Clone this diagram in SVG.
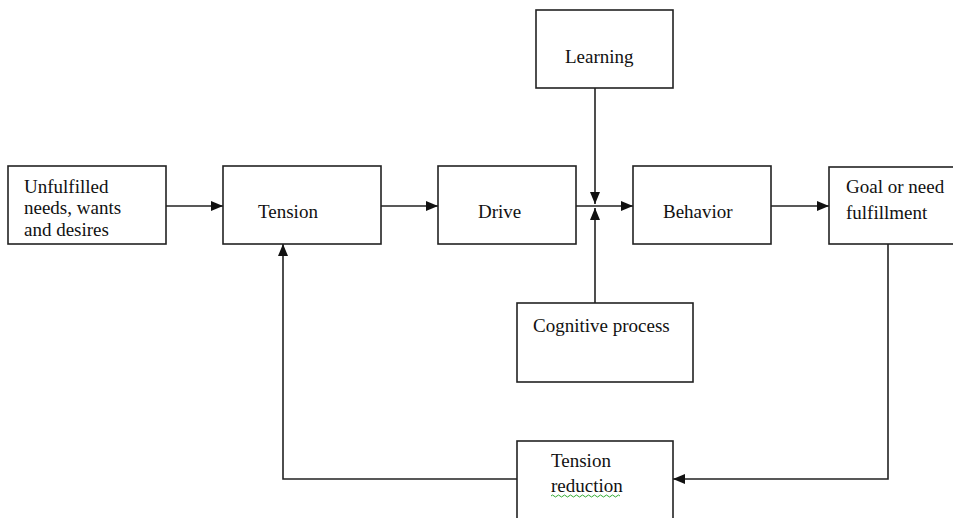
<svg xmlns="http://www.w3.org/2000/svg" width="953" height="518" viewBox="0 0 953 518">
<style>
.box{fill:#fff;stroke:#222;stroke-width:1.6}
.ln{fill:none;stroke:#222;stroke-width:1.6}
text{font-family:"Liberation Serif","Times New Roman",serif;font-size:19px;fill:#111}
</style>
<defs>
<marker id="ah" viewBox="0 0 12 10" refX="12" refY="5" markerWidth="12" markerHeight="10" markerUnits="userSpaceOnUse" orient="auto">
<path d="M0,0 L12,5 L0,10 z" fill="#111"/>
</marker>
</defs>
<rect width="953" height="518" fill="#fff"/>
<g id="connectors">
<line class="ln" x1="166" y1="206" x2="223" y2="206" marker-end="url(#ah)"/>
<line class="ln" x1="381" y1="206" x2="438" y2="206" marker-end="url(#ah)"/>
<line class="ln" x1="576" y1="206" x2="633" y2="206" marker-end="url(#ah)"/>
<line class="ln" x1="771" y1="206" x2="829" y2="206" marker-end="url(#ah)"/>
<line class="ln" x1="595" y1="88" x2="595" y2="204" marker-end="url(#ah)"/>
<line class="ln" x1="595" y1="303" x2="595" y2="208" marker-end="url(#ah)"/>
<polyline class="ln" points="888,244 888,479 673,479" marker-end="url(#ah)"/>
<polyline class="ln" points="517,479 283,479 283,244" marker-end="url(#ah)"/>
</g>
<g id="unfulfilled">
<rect class="box" x="8" y="166" width="158" height="78"/>
<text x="24" y="193">Unfulfilled</text>
<text x="24" y="214">needs, wants</text>
<text x="24" y="236">and desires</text>
</g>
<g id="tension">
<rect class="box" x="223" y="166" width="158" height="78"/>
<text x="258" y="218">Tension</text>
</g>
<g id="drive">
<rect class="box" x="438" y="166" width="138" height="78"/>
<text x="478" y="218">Drive</text>
</g>
<g id="behavior">
<rect class="box" x="633" y="166" width="138" height="78"/>
<text x="663" y="218">Behavior</text>
</g>
<g id="goal">
<rect class="box" x="829" y="167" width="130" height="77"/>
<text x="846" y="193">Goal or need</text>
<text x="846" y="219">fulfillment</text>
</g>
<g id="learning">
<rect class="box" x="536" y="10" width="137" height="78"/>
<text x="565" y="63">Learning</text>
</g>
<g id="cognitive">
<rect class="box" x="517" y="303" width="176" height="79"/>
<text x="533" y="332">Cognitive process</text>
</g>
<g id="reduction">
<rect class="box" x="517" y="441" width="156" height="82"/>
<text x="551" y="467">Tension</text>
<text x="551" y="492">reduction</text>
<path d="M551,496 q1.5,-2 3,0 t3,0 t3,0 t3,0 t3,0 t3,0 t3,0 t3,0 t3,0 t3,0 t3,0 t3,0 t3,0 t3,0 t3,0 t3,0 t3,0 t3,0 t3,0 t3,0 t3,0 t3,0 t3,0" fill="none" stroke="#3a3" stroke-width="1"/>
</g>
</svg>
